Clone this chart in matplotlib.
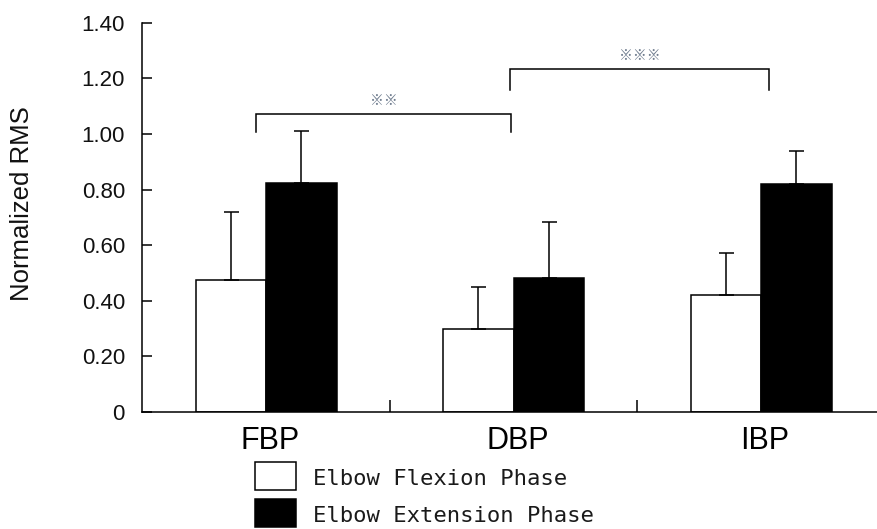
import numpy as np
import matplotlib
matplotlib.use("Agg")
import matplotlib.pyplot as plt
from matplotlib.patches import Rectangle

categories = ["FBP", "DBP", "IBP"]
flexion = [0.474, 0.298, 0.422]
flexion_err = [0.246, 0.150, 0.149]
extension = [0.825, 0.483, 0.820]
extension_err = [0.186, 0.199, 0.120]
yticks = [0, 0.2, 0.4, 0.6, 0.8, 1.0, 1.2, 1.4]
ytick_labels = ["0", "0.20", "0.40", "0.60", "0.80", "1.00", "1.20", "1.40"]
legend_labels = ["Elbow Flexion Phase", "Elbow Extension Phase"]
# significance brackets: (x start, x end, top, leg bottom, mark)
brackets = [(-0.04, 0.99, 1.072, 1.008, "※※"),
            (0.986, 2.034, 1.234, 1.156, "※※※")]

lw = 1.1
x = np.arange(len(categories))
w = 0.285

fig = plt.figure(figsize=(8.77, 5.29), dpi=100)
ax = fig.add_axes([0.1623, 0.2212, 0.8466, 0.736])

ax.bar(x - w / 2, flexion, w, color="white", edgecolor="black", linewidth=lw)
ax.bar(x + w / 2, extension, w, color="black", edgecolor="black", linewidth=lw)
err_kw = dict(fmt="none", ecolor="black", elinewidth=lw, capsize=5.4, capthick=lw)
ax.errorbar(x - w / 2, flexion, yerr=[np.zeros(3), flexion_err], **err_kw)
ax.errorbar(x + w / 2, extension, yerr=[np.zeros(3), extension_err], **err_kw)

for x0, x1, top, bot, mark in brackets:
    ax.plot([x0, x0, x1, x1], [bot, top, top, bot], color="black", lw=lw,
            solid_joinstyle="miter")
    ax.text((x0 + x1) / 2, top + 0.046, mark, ha="center", va="center",
            fontsize=10, color="#6f7c8e", family=["Noto Sans CJK JP", "DejaVu Sans"])

ax.set_xlim(-0.5, 2.5)
ax.set_ylim(0, 1.4)
ax.spines["top"].set_visible(False)
ax.spines["right"].set_visible(False)
ax.spines["left"].set_linewidth(lw)
ax.spines["bottom"].set_linewidth(lw)

ax.set_yticks(yticks)
ax.set_yticklabels(ytick_labels, family="Liberation Sans", fontsize=16, color="#111111")
ax.tick_params(axis="y", direction="in", length=7.2, width=lw, pad=12.5)
ax.set_xticks(x[:-1] + 0.5)
ax.set_xticklabels([])
ax.tick_params(axis="x", direction="in", length=8.5, width=lw)

for xi, name in zip(x, categories):
    ax.text(xi + 0.015, -0.132, name, ha="center", va="baseline",
            family="Liberation Sans", fontsize=22)

ax.set_ylabel("Normalized RMS", family="Liberation Sans", fontsize=18.5, color="#111111")
ax.yaxis.set_label_coords(-0.146, 0.534)

# legend boxes and labels
colors = ["white", "black"]
box_tops = [462.3, 499.3]
for c, top, lab in zip(colors, box_tops, legend_labels):
    fig.patches.append(Rectangle((255.3 / 877, 1 - (top + 28) / 529), 41 / 877, 28 / 529,
                                 transform=fig.transFigure, facecolor=c,
                                 edgecolor="black", linewidth=lw))
    fig.text(313.3 / 877, 1 - (top + 22.5) / 529, lab, ha="left", va="baseline",
             family="DejaVu Sans Mono", fontsize=16, color="#1a1a1a")

fig.savefig("out.png", dpi=100)
